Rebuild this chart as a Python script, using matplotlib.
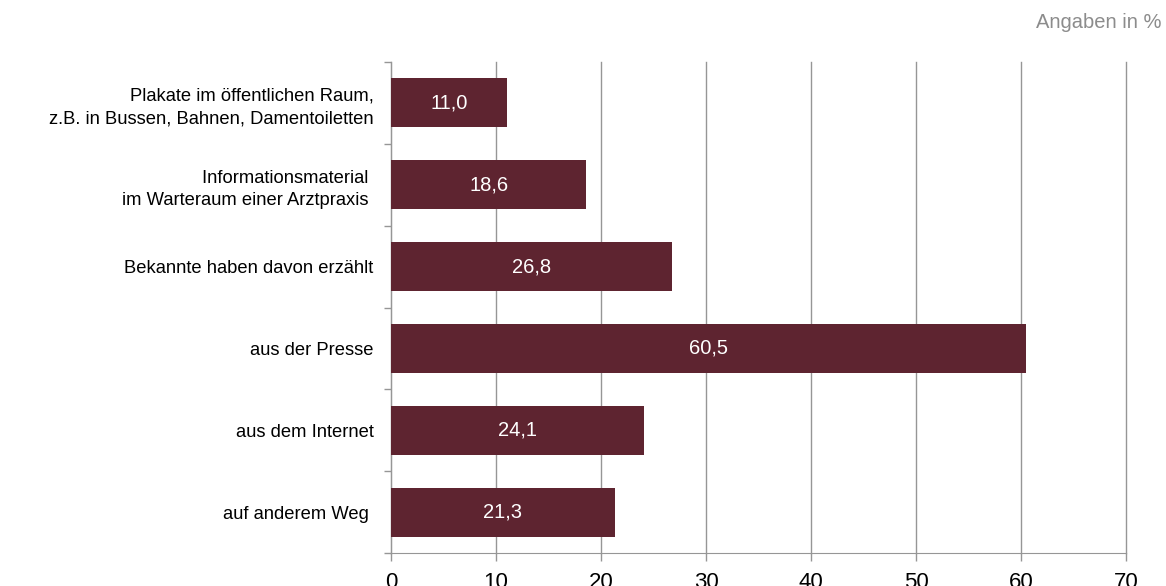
import matplotlib.pyplot as plt
import numpy as np

plt.rcParams['font.family'] = ['Liberation Sans', 'DejaVu Sans']

# data
categories = ["Plakate im öffentlichen Raum,\nz.B. in Bussen, Bahnen, Damentoiletten",
              "Informationsmaterial \nim Warteraum einer Arztpraxis ",
              "Bekannte haben davon erzählt",
              "aus der Presse",
              "aus dem Internet",
              "auf anderem Weg "]
values = [11.0, 18.6, 26.8, 60.5, 24.1, 21.3]
xticks = [0, 10, 20, 30, 40, 50, 60, 70]

bar_color = '#5e2430'
grid_color = '#969696'

fig = plt.figure(figsize=(11.66, 5.86), dpi=100)
ax = fig.add_axes([391/1166, 1 - 553/586, 735/1166, 491/586])

y = np.arange(len(categories))
ax.barh(y, values, height=0.6, color=bar_color, zorder=3)

for yi, v in zip(y, values):
    ax.text(v / 2, yi, f"{v:.1f}".replace('.', ','), color='white',
            ha='center', va='center', fontsize=14.5, zorder=4)

ax.set_xlim(0, 70)
ax.set_ylim(len(categories) - 0.5, -0.5)
ax.set_xticks(xticks)
ax.set_xticklabels([str(t) for t in xticks], fontsize=16)
ax.set_yticks(y)
ax.set_yticklabels(categories, fontsize=13.2)
ax.set_yticks(np.arange(len(categories) + 1) - 0.5, minor=True)
ax.tick_params(axis='y', which='major', length=0, pad=12.5)
ax.tick_params(axis='y', which='minor', length=5, color=grid_color, width=1)
ax.tick_params(axis='x', length=6, color=grid_color, width=1, pad=8)

ax.grid(axis='x', color=grid_color, linewidth=1, zorder=0)
for gl in ax.get_xgridlines():
    gl.set_clip_on(False)
for s in ['top', 'right']:
    ax.spines[s].set_visible(False)
for s in ['left', 'bottom']:
    ax.spines[s].set_color(grid_color)

for lbl in ax.get_yticklabels():
    lbl.set_multialignment('right')
    lbl.set_linespacing(1.4)

fig.text(1162/1166, 1 - 22/586, "Angaben in %", ha='right', va='center',
         fontsize=14.5, color='#8c8c8c')

fig.savefig('out.png', dpi=100)
